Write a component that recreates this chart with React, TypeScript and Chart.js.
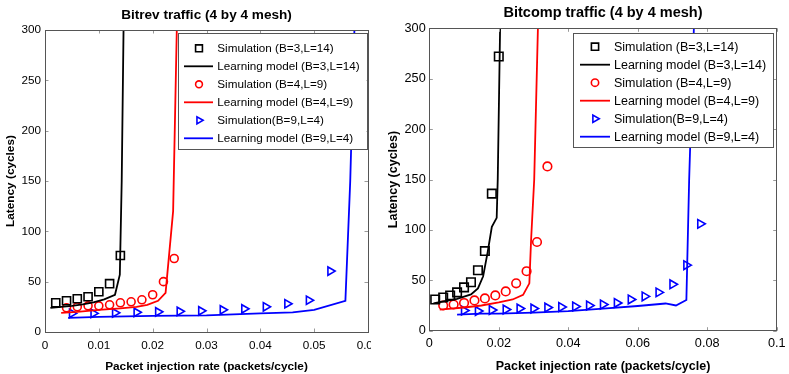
import React, { useEffect, useRef } from 'react';
import { Chart, registerables } from 'chart.js';
Chart.register(...registerables);

// ---------- shared labels / ticks ----------
const legendLabels = [
  'Simulation (B=3,L=14)',
  'Learning model (B=3,L=14)',
  'Simulation (B=4,L=9)',
  'Learning model (B=4,L=9)',
  'Simulation(B=9,L=4)',
  'Learning model (B=9,L=4)',
];
const yTicks = [0, 50, 100, 150, 200, 250, 300];
const yTickLabels = ['0', '50', '100', '150', '200', '250', '300'];

// ---------- Bitrev traffic ----------
const bitrevXTicks = [0, 0.01, 0.02, 0.03, 0.04, 0.05, 0.06];
const bitrevXTickLabels = ['0', '0.01', '0.02', '0.03', '0.04', '0.05', '0.06'];

const bitrevSimB3X = [0.002, 0.004, 0.006, 0.008, 0.010, 0.012, 0.014];
const bitrevSimB3Y = [29, 31, 33, 35, 40, 48, 76];
const bitrevModelB3X = [0.001, 0.003, 0.005, 0.007, 0.009, 0.011, 0.013, 0.0139, 0.01425, 0.0146];
const bitrevModelB3Y = [24, 25, 26, 27.5, 29.5, 32.5, 37, 57, 150, 305];

const bitrevSimB4X = [0.004, 0.006, 0.008, 0.010, 0.012, 0.014, 0.016, 0.018, 0.020, 0.022, 0.024];
const bitrevSimB4Y = [24, 25, 26, 26, 27, 29, 30, 32, 37, 50, 73];
const bitrevModelB4X = [0.003, 0.006, 0.010, 0.014, 0.017, 0.019, 0.021, 0.0224, 0.0238, 0.0245];
const bitrevModelB4Y = [19, 20, 22, 23.5, 25, 27, 31, 39, 120, 305];

const bitrevSimB9X = [0.005, 0.009, 0.013, 0.017, 0.021, 0.025, 0.029, 0.033, 0.037, 0.041, 0.045, 0.049, 0.053];
const bitrevSimB9Y = [18.5, 18.5, 19, 19.5, 20, 20.5, 21, 22, 23, 25, 28, 31.5, 60.5];
const bitrevModelB9X = [0.0043, 0.01, 0.02, 0.03, 0.04, 0.046, 0.05, 0.0558, 0.0567, 0.0575];
const bitrevModelB9Y = [14, 15, 16, 16.5, 18.5, 19.5, 22, 31, 150, 305];

// ---------- Bitcomp traffic ----------
const bitcompXTicks = [0, 0.02, 0.04, 0.06, 0.08, 0.1];
const bitcompXTickLabels = ['0', '0.02', '0.04', '0.06', '0.08', '0.1'];

const bitcompSimB3X = [0.0017, 0.004, 0.006, 0.008, 0.010, 0.012, 0.014, 0.016, 0.018, 0.020];
const bitcompSimB3Y = [31, 33, 35, 38, 43, 48, 60, 79, 136, 272];
const bitcompModelB3X = [0.0012, 0.004, 0.008, 0.012, 0.014, 0.0155, 0.0168, 0.018, 0.0194, 0.0197, 0.0204];
const bitcompModelB3Y = [27, 29, 31.5, 36, 42, 54, 78, 103, 112, 150, 305];

const bitcompSimB4X = [0.004, 0.007, 0.010, 0.013, 0.016, 0.019, 0.022, 0.025, 0.028, 0.031, 0.034];
const bitcompSimB4Y = [25, 26, 27.5, 30, 32, 35, 39, 47, 59, 88, 163];
const bitcompModelB4X = [0.003, 0.01, 0.015, 0.02, 0.024, 0.027, 0.0288, 0.0293, 0.0302, 0.0313];
const bitcompModelB4Y = [21, 23, 25, 28, 31, 35.5, 47, 90, 150, 305];

const bitcompSimB9X = [0.010, 0.014, 0.018, 0.022, 0.026, 0.030, 0.034, 0.038, 0.042, 0.046, 0.050, 0.054, 0.058, 0.062, 0.066, 0.070, 0.074, 0.078];
const bitcompSimB9Y = [20, 19.5, 20.5, 21, 22, 22, 23, 23.5, 24, 25, 26, 27.5, 31, 34, 38, 46, 65, 106];
const bitcompModelB9X = [0.008, 0.015, 0.02, 0.03, 0.04, 0.05, 0.06, 0.068, 0.071, 0.074, 0.0748, 0.0762];
const bitcompModelB9Y = [16, 17, 17, 18, 19.5, 22, 24.5, 27, 25, 30.5, 150, 305];

// ---------- helpers ----------
const FONT = '"Liberation Sans", Arial, Helvetica, sans-serif';
const COLORS = ['#000000', '#ff0000', '#0000ff'];
const MARKERS = ['rect', 'circle', 'triangle'];

function pts(xs: number[], ys: number[]) {
  return xs.map((x, i) => ({ x, y: ys[i] }));
}

function drawMarker(ctx: CanvasRenderingContext2D, style: string, x: number, y: number, r: number, color: string, lw: number) {
  ctx.save();
  ctx.strokeStyle = color;
  ctx.lineWidth = lw;
  ctx.beginPath();
  if (style === 'rect') {
    const s = r * Math.SQRT1_2;
    ctx.rect(x - s, y - s, 2 * s, 2 * s);
  } else if (style === 'circle') {
    ctx.arc(x, y, r, 0, Math.PI * 2);
  } else {
    ctx.moveTo(x + r, y);
    ctx.lineTo(x - r / 2, y - r * 0.866);
    ctx.lineTo(x - r / 2, y + r * 0.866);
    ctx.closePath();
  }
  ctx.stroke();
  ctx.restore();
}

type PanelCfg = {
  title: string;
  left: number;
  width: number;
  sims: { x: number; y: number }[][];
  models: { x: number; y: number }[][];
  xTicks: number[];
  xTickLabels: string[];
  xMax: number;
  yAxisWidth: number;
  xAxisHeight: number;
  padTop: number;
  padRight: number;
  tickFont: number;
  titleFont: number;
  titleY: number;
  axisTitleFont: number;
  yTitlePad: number;
  xTitlePad: number;
  xTickPad: number;
  yTickPad: number;
  legendBox: number[];
  legendMarkerX: number;
  legendLine: number[];
  legendTextX: number;
  legendRow0: number;
  legendStep: number;
  legendFont: number;
  markerR: number[];
};

const panelPlugin = {
  id: 'matlabPanel',
  afterDatasetsDraw(chart: any, _args: any, o: any) {
    const ctx: CanvasRenderingContext2D = chart.ctx;
    const a = chart.chartArea;
    const xs = chart.scales.x;
    const ys = chart.scales.y;
    ctx.save();
    // inward tick marks
    ctx.strokeStyle = '#9a9a9a';
    ctx.lineWidth = 1;
    const tl = 3.5;
    ctx.beginPath();
    o.xTicks.forEach((v: number) => {
      const px = Math.round(xs.getPixelForValue(v)) + 0.5;
      ctx.moveTo(px, a.bottom);
      ctx.lineTo(px, a.bottom - tl);
      ctx.moveTo(px, a.top);
      ctx.lineTo(px, a.top + tl);
    });
    o.yTicks.forEach((v: number) => {
      const py = Math.round(ys.getPixelForValue(v)) + 0.5;
      ctx.moveTo(a.left, py);
      ctx.lineTo(a.left + tl, py);
      ctx.moveTo(a.right, py);
      ctx.lineTo(a.right - tl, py);
    });
    ctx.stroke();
    // frame
    ctx.strokeStyle = '#555555';
    ctx.strokeRect(Math.round(a.left) + 0.5, Math.round(a.top) + 0.5, Math.round(a.right - a.left), Math.round(a.bottom - a.top));
    ctx.restore();
  },
  afterDraw(chart: any, _args: any, o: any) {
    const ctx: CanvasRenderingContext2D = chart.ctx;
    const a = chart.chartArea;
    ctx.save();
    // title
    ctx.fillStyle = '#000';
    ctx.font = `bold ${o.titleFont}px ${FONT}`;
    ctx.textAlign = 'center';
    ctx.textBaseline = 'middle';
    ctx.fillText(o.title, (a.left + a.right) / 2, o.titleY);
    // legend
    const [x1, y1, x2, y2] = o.legendBox;
    ctx.fillStyle = '#ffffff';
    ctx.fillRect(x1, y1, x2 - x1, y2 - y1);
    ctx.strokeStyle = '#555555';
    ctx.lineWidth = 1;
    ctx.strokeRect(Math.round(x1) + 0.5, Math.round(y1) + 0.5, Math.round(x2 - x1), Math.round(y2 - y1));
    ctx.font = `${o.legendFont}px ${FONT}`;
    ctx.textAlign = 'left';
    ctx.textBaseline = 'middle';
    chart.data.datasets.forEach((ds: any, i: number) => {
      const y = o.legendRow0 + i * o.legendStep;
      if (ds.showLine) {
        ctx.strokeStyle = ds.borderColor;
        ctx.lineWidth = ds.borderWidth;
        ctx.beginPath();
        ctx.moveTo(o.legendLine[0], y);
        ctx.lineTo(o.legendLine[1], y);
        ctx.stroke();
      } else {
        drawMarker(ctx, ds.pointStyle, o.legendMarkerX, y, ds.pointRadius * 0.85, ds.borderColor, ds.borderWidth);
      }
      ctx.fillStyle = '#000';
      ctx.fillText(ds.label, o.legendTextX, y + 0.5);
    });
    ctx.restore();
  },
};

function Panel({ cfg }: { cfg: PanelCfg }) {
  const ref = useRef<HTMLCanvasElement>(null);
  useEffect(() => {
    if (!ref.current) return;
    const datasets: any[] = [];
    for (let k = 0; k < 3; k++) {
      datasets.push({
        label: legendLabels[k * 2],
        data: cfg.sims[k],
        showLine: false,
        pointStyle: MARKERS[k],
        rotation: MARKERS[k] === 'triangle' ? 90 : 0,
        pointRadius: cfg.markerR[k],
        pointHoverRadius: cfg.markerR[k],
        borderColor: COLORS[k],
        backgroundColor: 'rgba(0,0,0,0)',
        pointBackgroundColor: 'rgba(0,0,0,0)',
        borderWidth: 1.6,
      });
      datasets.push({
        label: legendLabels[k * 2 + 1],
        data: cfg.models[k],
        showLine: true,
        pointRadius: 0,
        borderColor: COLORS[k],
        backgroundColor: COLORS[k],
        borderWidth: 1.8,
        tension: 0,
      });
    }
    const chart = new Chart(ref.current, {
      type: 'scatter',
      data: { datasets },
      plugins: [panelPlugin as any],
      options: {
        responsive: false,
        animation: false,
        events: [],
        layout: { autoPadding: false, padding: { left: 0, right: cfg.padRight, top: cfg.padTop, bottom: 0 } },
        plugins: {
          legend: { display: false },
          title: { display: false },
          tooltip: { enabled: false },
          matlabPanel: {
            title: cfg.title,
            titleFont: cfg.titleFont,
            titleY: cfg.titleY,
            xTicks: cfg.xTicks,
            yTicks: yTicks,
            legendBox: cfg.legendBox,
            legendMarkerX: cfg.legendMarkerX,
            legendLine: cfg.legendLine,
            legendTextX: cfg.legendTextX,
            legendRow0: cfg.legendRow0,
            legendStep: cfg.legendStep,
            legendFont: cfg.legendFont,
          },
        } as any,
        scales: {
          x: {
            type: 'linear',
            min: 0,
            max: cfg.xMax,
            grid: { display: false, drawTicks: false },
            border: { display: false },
            afterBuildTicks: (s: any) => {
              s.ticks = cfg.xTicks.map((v) => ({ value: v }));
            },
            afterFit: (s: any) => {
              s.height = cfg.xAxisHeight;
              s.paddingLeft = 0;
              s.paddingRight = 0;
            },
            ticks: {
              autoSkip: false,
              maxRotation: 0,
              padding: cfg.xTickPad,
              color: '#000',
              font: { family: FONT, size: cfg.tickFont },
              callback: (_v: any, i: number) => cfg.xTickLabels[i],
            },
            title: {
              display: true,
              text: 'Packet injection rate (packets/cycle)',
              color: '#000',
              font: { family: FONT, size: cfg.axisTitleFont, weight: 'bold' },
              padding: { top: cfg.xTitlePad, bottom: 0 },
            },
          },
          y: {
            type: 'linear',
            min: 0,
            max: 300,
            grid: { display: false, drawTicks: false },
            border: { display: false },
            afterBuildTicks: (s: any) => {
              s.ticks = yTicks.map((v) => ({ value: v }));
            },
            afterFit: (s: any) => {
              s.width = cfg.yAxisWidth;
              s.paddingTop = 0;
              s.paddingBottom = 0;
            },
            ticks: {
              autoSkip: false,
              padding: cfg.yTickPad,
              color: '#000',
              font: { family: FONT, size: cfg.tickFont },
              callback: (_v: any, i: number) => yTickLabels[i],
            },
            title: {
              display: true,
              text: 'Latency (cycles)',
              color: '#000',
              font: { family: FONT, size: cfg.axisTitleFont, weight: 'bold' },
              padding: { top: cfg.yTitlePad, bottom: 0 },
            },
          },
        },
      } as any,
    });
    return () => chart.destroy();
  }, [cfg]);
  return (
    <div style={{ position: 'absolute', left: cfg.left, top: 0, width: cfg.width, height: 374, overflow: 'hidden' }}>
      <canvas ref={ref} width={cfg.width} height={374} style={{ width: cfg.width, height: 374, display: 'block' }} />
    </div>
  );
}

const bitrevCfg: PanelCfg = {
  title: 'Bitrev traffic (4 by 4 mesh)',
  left: 0,
  width: 371,
  sims: [pts(bitrevSimB3X, bitrevSimB3Y), pts(bitrevSimB4X, bitrevSimB4Y), pts(bitrevSimB9X, bitrevSimB9Y)],
  models: [pts(bitrevModelB3X, bitrevModelB3Y), pts(bitrevModelB4X, bitrevModelB4Y), pts(bitrevModelB9X, bitrevModelB9Y)],
  xTicks: bitrevXTicks,
  xTickLabels: bitrevXTickLabels,
  xMax: 0.06,
  yAxisWidth: 45,
  xAxisHeight: 42,
  padTop: 30,
  padRight: 3,
  tickFont: 11.7,
  titleFont: 13.6,
  titleY: 15,
  axisTitleFont: 11.8,
  yTitlePad: 4,
  xTitlePad: 7,
  xTickPad: 6.5,
  yTickPad: 4,
  legendBox: [178, 33, 366.5, 149],
  legendMarkerX: 199,
  legendLine: [184, 213],
  legendTextX: 217.3,
  legendRow0: 48.3,
  legendStep: 18,
  legendFont: 11.7,
  markerR: [5.7, 4, 4.8],
};

const bitcompCfg: PanelCfg = {
  title: 'Bitcomp traffic (4 by 4 mesh)',
  left: 386,
  width: 403,
  sims: [pts(bitcompSimB3X, bitcompSimB3Y), pts(bitcompSimB4X, bitcompSimB4Y), pts(bitcompSimB9X, bitcompSimB9Y)],
  models: [pts(bitcompModelB3X, bitcompModelB3Y), pts(bitcompModelB4X, bitcompModelB4Y), pts(bitcompModelB9X, bitcompModelB9Y)],
  xTicks: bitcompXTicks,
  xTickLabels: bitcompXTickLabels,
  xMax: 0.1,
  yAxisWidth: 43.3,
  xAxisHeight: 43.3,
  padTop: 28.3,
  padRight: 12.3,
  tickFont: 12.7,
  titleFont: 14.5,
  titleY: 12.5,
  axisTitleFont: 12.5,
  yTitlePad: 0.5,
  xTitlePad: 6.8,
  xTickPad: 5,
  yTickPad: 3.6,
  legendBox: [186.7, 33, 386.7, 147],
  legendMarkerX: 209,
  legendLine: [194, 224],
  legendTextX: 228,
  legendRow0: 46.7,
  legendStep: 18,
  legendFont: 12.5,
  markerR: [6, 4.3, 5],
};

export default function App() {
  return (
    <div style={{ position: 'fixed', left: 0, top: 0, width: 789, height: 374, background: '#ffffff', overflow: 'hidden' }}>
      <Panel cfg={bitrevCfg} />
      <Panel cfg={bitcompCfg} />
    </div>
  );
}
